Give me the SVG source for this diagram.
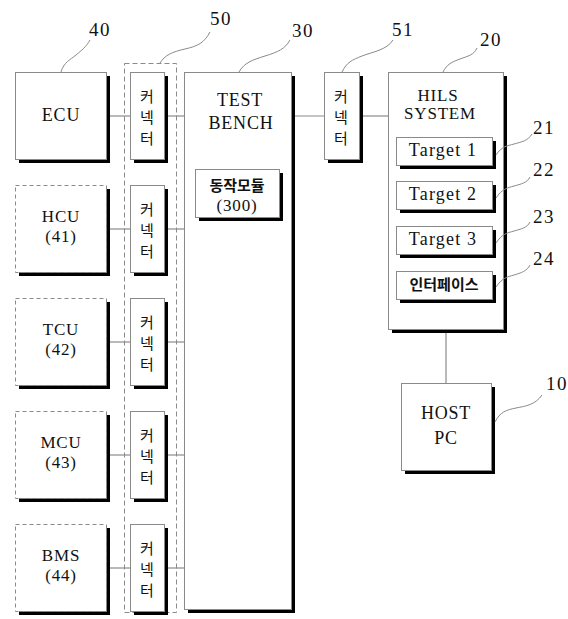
<svg xmlns="http://www.w3.org/2000/svg" width="568" height="619" viewBox="0 0 568 619">
<style>
.bx{fill:#fff;stroke:#8a8a8a;stroke-width:1}
.db{fill:#fff;stroke:#8a8a8a;stroke-width:1;stroke-dasharray:4 3}
.grp{fill:none;stroke:#8a8a8a;stroke-width:1;stroke-dasharray:5 3}
.ln{stroke:#8a8a8a;stroke-width:1.2;fill:none}
.ld{stroke:#8a8a8a;stroke-width:1;fill:none}
.t{font-family:"Liberation Serif",serif;font-size:18px;fill:#111;text-anchor:middle;letter-spacing:0.8px}
.t2{font-family:"Liberation Serif",serif;font-size:17px;fill:#111;text-anchor:middle;letter-spacing:0.8px}
.tg{font-family:"Liberation Serif",serif;font-size:18px;fill:#111;text-anchor:middle;letter-spacing:1.2px}
.n{font-family:"Liberation Serif",serif;font-size:19px;fill:#111;text-anchor:middle;letter-spacing:1.5px}
.k{font-family:"Noto Sans CJK KR",sans-serif;font-size:15px;fill:#111;text-anchor:middle;dominant-baseline:central}
.kb{font-family:"Noto Sans CJK KR",sans-serif;font-size:15px;font-weight:bold;fill:#111;text-anchor:middle}
</style>

<g id="group50">
<rect class="grp" x="124.5" y="63.5" width="52" height="549"/>
</g>

<g id="connectors">
<line class="ln" x1="106" y1="116" x2="131" y2="116"/>
<line class="ln" x1="164" y1="116" x2="185" y2="116"/>
<line class="ln" x1="106" y1="229" x2="131" y2="229"/>
<line class="ln" x1="164" y1="229" x2="185" y2="229"/>
<line class="ln" x1="106" y1="342" x2="131" y2="342"/>
<line class="ln" x1="164" y1="342" x2="185" y2="342"/>
<line class="ln" x1="106" y1="455" x2="131" y2="455"/>
<line class="ln" x1="164" y1="455" x2="185" y2="455"/>
<line class="ln" x1="106" y1="568" x2="131" y2="568"/>
<line class="ln" x1="164" y1="568" x2="185" y2="568"/>
<line class="ln" x1="292" y1="116" x2="325" y2="116"/>
<line class="ln" x1="359" y1="116" x2="389" y2="116"/>
<line class="ln" x1="446" y1="330" x2="446" y2="384"/>
</g>

<g id="ecu">
<rect fill="#000" x="19" y="76" width="91" height="87"/>
<rect class="bx" x="15.5" y="72.5" width="91" height="87"/>
<text class="t" x="61" y="121">ECU</text>
</g>
<g id="hcu">
<rect fill="#000" x="19" y="189" width="91" height="87"/>
<rect class="db" x="15.5" y="185.5" width="91" height="87"/>
<text class="t2" x="61" y="222">HCU</text>
<text class="t2" x="61" y="242">(41)</text>
</g>
<g id="tcu">
<rect fill="#000" x="19" y="302" width="91" height="87"/>
<rect class="db" x="15.5" y="298.5" width="91" height="87"/>
<text class="t2" x="61" y="335">TCU</text>
<text class="t2" x="61" y="355">(42)</text>
</g>
<g id="mcu">
<rect fill="#000" x="19" y="415" width="91" height="87"/>
<rect class="db" x="15.5" y="411.5" width="91" height="87"/>
<text class="t2" x="61" y="448">MCU</text>
<text class="t2" x="61" y="468">(43)</text>
</g>
<g id="bms">
<rect fill="#000" x="19" y="528" width="91" height="87"/>
<rect class="db" x="15.5" y="524.5" width="91" height="87"/>
<text class="t2" x="61" y="561">BMS</text>
<text class="t2" x="61" y="581">(44)</text>
</g>

<g id="conn1">
<rect fill="#000" x="134" y="76" width="34" height="87"/>
<rect class="bx" x="130.5" y="72.5" width="34" height="87"/>
<text class="k" x="147" y="95">커</text><text class="k" x="147" y="116">넥</text><text class="k" x="147" y="137">터</text>
</g>
<g id="conn2">
<rect fill="#000" x="134" y="189" width="34" height="87"/>
<rect class="bx" x="130.5" y="185.5" width="34" height="87"/>
<text class="k" x="147" y="208">커</text><text class="k" x="147" y="229">넥</text><text class="k" x="147" y="250">터</text>
</g>
<g id="conn3">
<rect fill="#000" x="134" y="302" width="34" height="87"/>
<rect class="bx" x="130.5" y="298.5" width="34" height="87"/>
<text class="k" x="147" y="321">커</text><text class="k" x="147" y="342">넥</text><text class="k" x="147" y="363">터</text>
</g>
<g id="conn4">
<rect fill="#000" x="134" y="415" width="34" height="87"/>
<rect class="bx" x="130.5" y="411.5" width="34" height="87"/>
<text class="k" x="147" y="434">커</text><text class="k" x="147" y="455">넥</text><text class="k" x="147" y="476">터</text>
</g>
<g id="conn5">
<rect fill="#000" x="134" y="528" width="34" height="87"/>
<rect class="bx" x="130.5" y="524.5" width="34" height="87"/>
<text class="k" x="147" y="547">커</text><text class="k" x="147" y="568">넥</text><text class="k" x="147" y="589">터</text>
</g>

<g id="testbench">
<rect fill="#000" x="188" y="76" width="107" height="537"/>
<rect class="bx" x="184.5" y="72.5" width="107" height="537"/>
<text class="t" x="240" y="106">TEST</text>
<text class="t" x="241" y="129">BENCH</text>
</g>
<g id="module300">
<rect fill="#000" x="199" y="173" width="84" height="48"/>
<rect class="bx" x="195.5" y="169.5" width="84" height="48"/>
<text class="kb" x="237" y="191">동작모듈</text>
<text class="t2" x="237" y="211">(300)</text>
</g>

<g id="conn51">
<rect fill="#000" x="328" y="76" width="35" height="87"/>
<rect class="bx" x="324.5" y="72.5" width="35" height="87"/>
<text class="k" x="341" y="95">커</text><text class="k" x="341" y="116">넥</text><text class="k" x="341" y="137">터</text>
</g>

<g id="hils">
<rect fill="#000" x="392" y="76" width="115" height="257"/>
<rect class="bx" x="388.5" y="72.5" width="115" height="257"/>
<text class="t2" x="438" y="101">HILS</text>
<text class="t2" x="440" y="119">SYSTEM</text>
</g>
<g id="target1">
<rect fill="#000" x="400" y="141" width="96" height="28"/>
<rect class="bx" x="396.5" y="137.5" width="96" height="28"/>
<text class="tg" x="443" y="156">Target 1</text>
</g>
<g id="target2">
<rect fill="#000" x="400" y="185" width="96" height="28"/>
<rect class="bx" x="396.5" y="181.5" width="96" height="28"/>
<text class="tg" x="443" y="200">Target 2</text>
</g>
<g id="target3">
<rect fill="#000" x="400" y="230" width="96" height="28"/>
<rect class="bx" x="396.5" y="226.5" width="96" height="28"/>
<text class="tg" x="443" y="245">Target 3</text>
</g>
<g id="interface">
<rect fill="#000" x="400" y="275" width="96" height="28"/>
<rect class="bx" x="396.5" y="271.5" width="96" height="28"/>
<text class="kb" x="444" y="290">인터페이스</text>
</g>

<g id="hostpc">
<rect fill="#000" x="405" y="387" width="90" height="87"/>
<rect class="bx" x="401.5" y="383.5" width="90" height="87"/>
<text class="t" x="446" y="419">HOST</text>
<text class="t" x="446" y="444">PC</text>
</g>

<g id="leaders">
<path class="ld" d="M61,72 C64,62 70,60 76,55 S86,47 90,40"/>
<path class="ld" d="M160,63 C165,55 172,52 185,49 S204,43 210,32"/>
<path class="ld" d="M239,72 C244,63 252,60 265,56 S285,49 290,40"/>
<path class="ld" d="M342,72 C347,62 352,60 362,56 S387,50 393,40"/>
<path class="ld" d="M443,72 C447,64 452,62 460,59 S474,55 477,48"/>
<path class="ld" d="M496,155 C502,146 507,146 514,144 S528,141 532,134"/>
<path class="ld" d="M496,198 C502,189 507,188 514,186 S527,183 530,177"/>
<path class="ld" d="M496,243 C502,234 507,233 514,231 S527,228 530,222"/>
<path class="ld" d="M496,287 C502,278 507,277 514,275 S527,271 530,265"/>
<path class="ld" d="M495,422 C500,412 506,410 516,408 S535,405 542,395"/>
<text class="n" x="100" y="36">40</text>
<text class="n" x="221" y="25">50</text>
<text class="n" x="303" y="37">30</text>
<text class="n" x="403" y="36">51</text>
<text class="n" x="491" y="46">20</text>
<text class="n" x="544" y="134">21</text>
<text class="n" x="544" y="176">22</text>
<text class="n" x="544" y="223">23</text>
<text class="n" x="544" y="265">24</text>
<text class="n" x="557" y="390">10</text>
</g>
</svg>
